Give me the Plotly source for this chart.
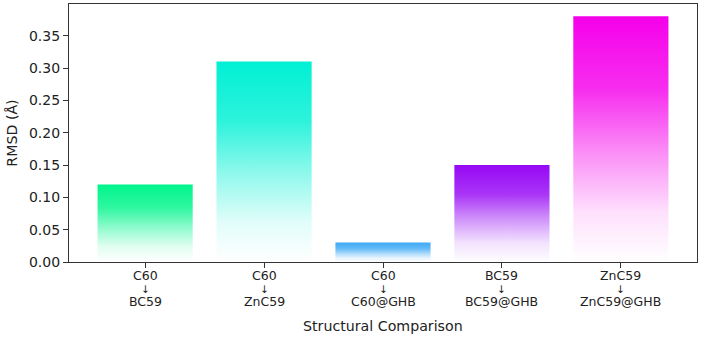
import plotly.graph_objects as go

cat_from = ["C60", "C60", "C60", "BC59", "ZnC59"]
cat_to = ["BC59", "ZnC59", "C60@GHB", "BC59@GHB", "ZnC59@GHB"]
rmsd = [0.12, 0.31, 0.03, 0.15, 0.38]
bar_colors = [(0, 245, 140), (0, 240, 212), (62, 170, 245), (150, 8, 245), (245, 0, 235)]
y_ticks = [0.00, 0.05, 0.10, 0.15, 0.20, 0.25, 0.30, 0.35]

BAR_W = 0.8
FONT = "DejaVu Sans, Verdana, sans-serif"

fig = go.Figure()
for i, (v, c) in enumerate(zip(rmsd, bar_colors)):
    r, g, b = c
    h = BAR_W / 2
    cs = [
        [0.0, f"rgba({r},{g},{b},0.0)"],
        [0.2, f"rgba({r},{g},{b},0.12)"],
        [0.45, f"rgba({r},{g},{b},0.45)"],
        [0.7, f"rgba({r},{g},{b},0.82)"],
        [1.0, f"rgba({r},{g},{b},1)"],
    ]
    fig.add_trace(go.Scatter(
        x=[i - h, i + h, i + h, i - h, i - h],
        y=[0, 0, v, v, 0],
        mode="lines",
        line=dict(width=0, color=f"rgba({r},{g},{b},0)"),
        fill="toself",
        fillgradient=dict(type="vertical", colorscale=cs, start=0, stop=v),
        showlegend=False,
        hoverinfo="skip",
    ))

annotations = []
for i, (src, dst) in enumerate(zip(cat_from, cat_to)):
    for txt, dy, fs in ((src, -13.5, 12.5), ("↓", -26.5, 10.5), (dst, -39.5, 12.5)):
        annotations.append(dict(
            x=i, xref="x", y=0, yref="paper", yanchor="middle", xanchor="center",
            yshift=dy, text=txt, showarrow=False, borderpad=0,
            font=dict(size=fs, family=FONT, color="#222"),
        ))
annotations.append(dict(
    x=0.5, xref="paper", y=0, yref="paper", yanchor="middle", xanchor="center",
    yshift=-64, text="Structural Comparison", showarrow=False,
    font=dict(size=14.2, family=FONT, color="#222"),
))

fig.update_layout(
    width=702, height=337,
    margin=dict(l=69, r=5, t=4, b=75, autoexpand=False),
    plot_bgcolor="white", paper_bgcolor="white",
    font=dict(family=FONT, size=13, color="#222"),
    showlegend=False,
    annotations=annotations,
)
fig.update_xaxes(
    range=[-0.64, 4.64],
    tickmode="array", tickvals=list(range(len(cat_from))), showticklabels=False,
    showgrid=False, zeroline=False,
    showline=True, linecolor="#333", linewidth=1.2, mirror=True,
    ticks="outside", ticklen=5, tickcolor="#333",
    automargin=False,
)
fig.update_yaxes(
    range=[0, 0.399],
    tickmode="array", tickvals=y_ticks, ticktext=[f"{t:.2f}" for t in y_ticks],
    showgrid=False, zeroline=False,
    showline=True, linecolor="#333", linewidth=1.2, mirror=True,
    ticks="outside", ticklen=5, tickcolor="#333",
    tickfont=dict(size=14),
    title=dict(text="RMSD (Å)", font=dict(size=14.2), standoff=7),
    automargin=False,
)

fig.write_html("out.html")
